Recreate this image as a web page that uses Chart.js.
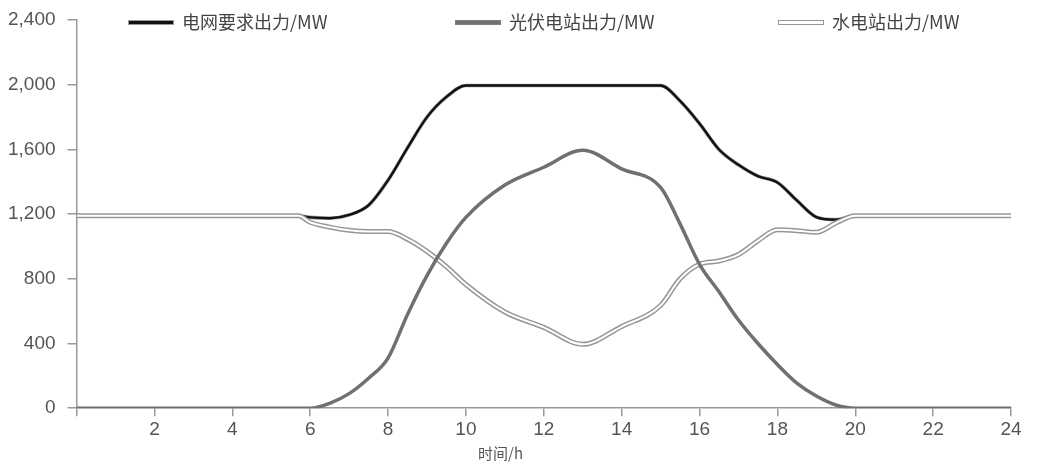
<!DOCTYPE html>
<html>
<head>
<meta charset="utf-8">
<script src="https://cdn.jsdelivr.net/npm/chart.js@4/dist/chart.umd.min.js"></script>
<style>
  html, body { margin: 0; padding: 0; background: #fff; }
  #wrap { position: relative; width: 1053px; height: 469px; }
  #legend span.item { position: absolute; top: 11px; font: 18px "Noto Sans CJK SC", "Liberation Sans", sans-serif; color: #444; white-space: nowrap; line-height: 20px; }
  #legend i { display: inline-block; width: 44px; height: 3px; vertical-align: middle; margin-right: 8px; position: relative; top: -2px; box-sizing: content-box; }
  #xtitle { position: absolute; left: 478px; top: 442px; font: 15px "Noto Sans CJK SC", "Liberation Sans", sans-serif; color: #555; }
</style>
</head>
<body>
<div id="wrap">
  <canvas id="powerChart" width="1053" height="469"></canvas>
  <div id="legend"></div>
  <div id="xtitle"></div>
</div>
<script>
// hours of the day and the three output curves (MW)
const hours  = [0, 5.7, 6, 6.5, 7, 7.5, 8, 8.5, 9, 9.5, 10, 11, 12, 13, 14, 15, 15.5, 16, 16.5, 17, 17.5, 18, 18.5, 19, 19.5, 20, 24];
const demand = [1190, 1190, 1180, 1175, 1195, 1255, 1410, 1610, 1800, 1925, 1995, 1995, 1995, 1995, 1995, 1995, 1900, 1760, 1600, 1505, 1435, 1396, 1285, 1182, 1166, 1190, 1190];
const solar  = [0, 0, 0, 30, 90, 185, 310, 580, 820, 1020, 1180, 1380, 1490, 1595, 1480, 1365, 1140, 890, 720, 545, 400, 270, 155, 75, 20, 0, 0];
const hydro  = [1190, 1190, 1150, 1120, 1100, 1092, 1092, 1045, 970, 875, 765, 595, 500, 395, 505, 635, 800, 890, 910, 950, 1035, 1103, 1098, 1088, 1145, 1190, 1190];

const seriesNames = ['电网要求出力/MW', '光伏电站出力/MW', '水电站出力/MW'];
const xTicks = [0, 2, 4, 6, 8, 10, 12, 14, 16, 18, 20, 22, 24];
const yTicks = [0, 400, 800, 1200, 1600, 2000, 2400];
const xTitle = '时间/h';

function pts(values) {
    return hours.map((h, i) => ({ x: h, y: values[i] }));
}

// shared line look
function line(label, values, color, width) {
    return {
        label: label,
        data: pts(values),
        borderColor: color,
        borderWidth: width,
        pointRadius: 0,
        pointHoverRadius: 0,
        fill: false,
        cubicInterpolationMode: 'monotone'
    };
}

// first dataset is drawn on top
const datasets = [
    line(seriesNames[1], solar, '#707070', 3.5),
    line(seriesNames[2], hydro, '#ffffff', 2),      // inner white of the double line
    line(seriesNames[2], hydro, '#969696', 5),      // outer grey of the double line
    line(seriesNames[0], demand, '#111111', 2.4),
    line(seriesNames[0], demand, '#9a9a9a', 3.6)
];

const tickFont = { family: '"Liberation Sans", Arial, sans-serif', size: 19 };

new Chart(document.getElementById('powerChart'), {
    type: 'line',
    data: { datasets: datasets },
    options: {
        responsive: false,
        animation: false,
        events: [],
        layout: { padding: { left: -4, right: 42, top: 0, bottom: 26 } },
        plugins: { legend: { display: false }, tooltip: { enabled: false } },
        scales: {
            x: {
                type: 'linear',
                min: 0,
                max: 24,
                afterBuildTicks: (axis) => { axis.ticks = xTicks.map(v => ({ value: v })); },
                ticks: {
                    color: '#555',
                    font: tickFont,
                    padding: 2,
                    maxRotation: 0,
                    callback: (v) => v === 0 ? '' : String(v)
                },
                grid: { display: true, drawOnChartArea: false, drawTicks: true, tickLength: 8, color: '#999', lineWidth: 1.5 },
                border: { display: true, color: '#999', width: 1.5 }
            },
            y: {
                min: 0,
                max: 2400,
                afterBuildTicks: (axis) => { axis.ticks = yTicks.map(v => ({ value: v })); },
                ticks: {
                    color: '#555',
                    font: { family: tickFont.family, size: 19, lineHeight: 0.85 },
                    padding: 12,
                    callback: (v) => v.toLocaleString('en-US')
                },
                grid: { display: true, drawOnChartArea: false, drawTicks: true, tickLength: 9, color: '#999', lineWidth: 1.5 },
                border: { display: true, color: '#999', width: 1.5 }
            }
        }
    }
});

// legend laid out across the top, as in the figure
const legendSpots = [128, 455, 778];
const swatches = [
    'background:#111;border:1px solid #999;',
    'background:#707070;border:1px solid #808080;',
    'background:#fff;border:1.5px solid #969696;'
];
const legend = document.getElementById('legend');
seriesNames.forEach((name, i) => {
    const item = document.createElement('span');
    item.className = 'item';
    item.style.left = legendSpots[i] + 'px';
    item.innerHTML = '<i style="' + swatches[i] + '"></i>';
    item.appendChild(document.createTextNode(name));
    legend.appendChild(item);
});
document.getElementById('xtitle').textContent = xTitle;
</script>
</body>
</html>
